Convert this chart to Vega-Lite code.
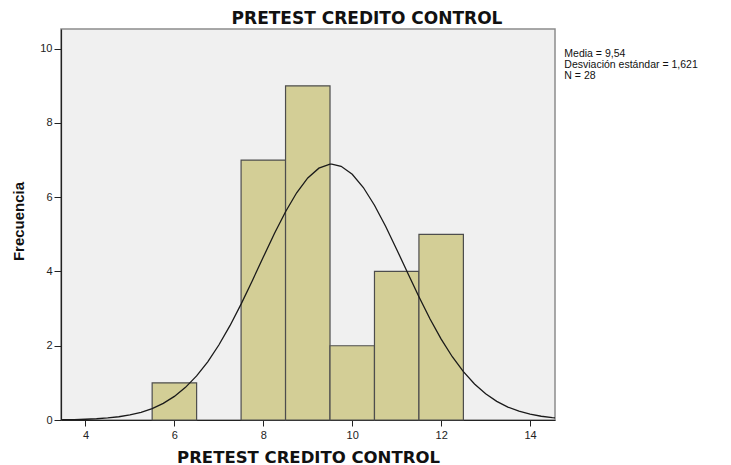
{
  "$schema": "https://vega.github.io/schema/vega-lite/v6.json",
  "width": 494,
  "height": 391,
  "autosize": {"type": "none"},
  "padding": {"left": 61, "top": 29, "right": 176, "bottom": 45},
  "background": "white",
  "title": {
    "text": "PRETEST CREDITO CONTROL",
    "font": "DejaVu Sans",
    "fontSize": 17,
    "fontWeight": "bold",
    "color": "#111",
    "anchor": "middle",
    "frame": "group",
    "dx": 59,
    "baseline": "alphabetic",
    "offset": -11.5
  },
  "config": {
    "view": {"fill": "#f0f0f0", "stroke": "#8c8c8c", "strokeWidth": 1.5},
    "axis": {
      "grid": false,
      "domainColor": "#222",
      "domainWidth": 1.2,
      "tickColor": "#222",
      "labelColor": "#222",
      "labelFont": "Liberation Sans",
      "labelFontSize": 11,
      "titleColor": "#111"
    }
  },
  "datasets": {
    "bins": [
      {"lo": 5.5, "hi": 6.5, "count": 1},
      {"lo": 7.5, "hi": 8.5, "count": 7},
      {"lo": 8.5, "hi": 9.5, "count": 9},
      {"lo": 9.5, "hi": 10.5, "count": 2},
      {"lo": 10.5, "hi": 11.5, "count": 4},
      {"lo": 11.5, "hi": 12.5, "count": 5}
    ],
    "curve": [
      {"x": 3.45, "y": 0.0059},
      {"x": 3.5, "y": 0.0067},
      {"x": 3.75, "y": 0.0117},
      {"x": 4.0, "y": 0.0200},
      {"x": 4.25, "y": 0.0336},
      {"x": 4.5, "y": 0.0548},
      {"x": 4.75, "y": 0.0876},
      {"x": 5.0, "y": 0.1365},
      {"x": 5.25, "y": 0.2076},
      {"x": 5.5, "y": 0.3086},
      {"x": 5.75, "y": 0.4481},
      {"x": 6.0, "y": 0.6351},
      {"x": 6.25, "y": 0.8788},
      {"x": 6.5, "y": 1.187},
      {"x": 6.75, "y": 1.567},
      {"x": 7.0, "y": 2.019},
      {"x": 7.25, "y": 2.540},
      {"x": 7.5, "y": 3.121},
      {"x": 7.75, "y": 3.745},
      {"x": 8.0, "y": 4.388},
      {"x": 8.25, "y": 5.021},
      {"x": 8.5, "y": 5.609},
      {"x": 8.75, "y": 6.119},
      {"x": 9.0, "y": 6.519},
      {"x": 9.25, "y": 6.782},
      {"x": 9.5, "y": 6.889},
      {"x": 9.54, "y": 6.891},
      {"x": 9.75, "y": 6.833},
      {"x": 10.0, "y": 6.619},
      {"x": 10.25, "y": 6.261},
      {"x": 10.5, "y": 5.783},
      {"x": 10.75, "y": 5.216},
      {"x": 11.0, "y": 4.594},
      {"x": 11.25, "y": 3.950},
      {"x": 11.5, "y": 3.318},
      {"x": 11.75, "y": 2.720},
      {"x": 12.0, "y": 2.178},
      {"x": 12.25, "y": 1.704},
      {"x": 12.5, "y": 1.301},
      {"x": 12.75, "y": 0.9701},
      {"x": 13.0, "y": 0.7064},
      {"x": 13.25, "y": 0.5022},
      {"x": 13.5, "y": 0.3486},
      {"x": 13.75, "y": 0.2364},
      {"x": 14.0, "y": 0.1565},
      {"x": 14.25, "y": 0.1012},
      {"x": 14.5, "y": 0.0639},
      {"x": 14.56, "y": 0.0578}
    ],
    "stats": [
      {"text": "Media = 9,54\nDesviación estándar = 1,621\nN = 28"}
    ]
  },
  "layer": [
    {
      "data": {"name": "bins"},
      "mark": {"type": "rect", "fill": "#d3ce96", "stroke": "#4d4d4d", "strokeWidth": 1.2},
      "encoding": {
        "x": {
          "field": "lo",
          "type": "quantitative",
          "title": "PRETEST CREDITO CONTROL",
          "scale": {"domain": [3.45, 14.56], "nice": false, "zero": false},
          "axis": {
            "values": [4, 6, 8, 10, 12, 14],
            "tickSize": 6,
            "labelPadding": 3,
            "titleFont": "DejaVu Sans",
            "titleFontSize": 16.5,
            "titleFontWeight": "bold",
            "titleBaseline": "alphabetic",
            "titleY": 42
          }
        },
        "x2": {"field": "hi"},
        "y": {
          "field": "count",
          "type": "quantitative",
          "title": "Frecuencia",
          "scale": {"domain": [0, 10.53], "nice": false},
          "axis": {
            "values": [0, 2, 4, 6, 8, 10],
            "tickSize": 7,
            "labelPadding": 2,
            "titleFont": "Liberation Sans",
            "titleFontSize": 15,
            "titleFontWeight": "bold",
            "titleAngle": -90,
            "titleBaseline": "alphabetic",
            "titleAlign": "center",
            "titleX": -38,
            "titleY": 192
          }
        },
        "y2": {"datum": 0}
      }
    },
    {
      "data": {"name": "curve"},
      "mark": {"type": "line", "color": "#1a1a1a", "strokeWidth": 1.3, "clip": true},
      "encoding": {
        "x": {"field": "x", "type": "quantitative", "title": "PRETEST CREDITO CONTROL"},
        "y": {"field": "y", "type": "quantitative", "title": "Frecuencia"}
      }
    },
    {
      "data": {"name": "stats"},
      "mark": {
        "type": "text",
        "align": "left",
        "baseline": "top",
        "font": "Liberation Sans",
        "fontSize": 10.5,
        "lineHeight": 11,
        "lineBreak": "\n",
        "color": "#111"
      },
      "encoding": {
        "x": {"datum": 14.77, "type": "quantitative"},
        "y": {"datum": 9.98, "type": "quantitative"},
        "text": {"field": "text", "type": "nominal"}
      }
    }
  ]
}
